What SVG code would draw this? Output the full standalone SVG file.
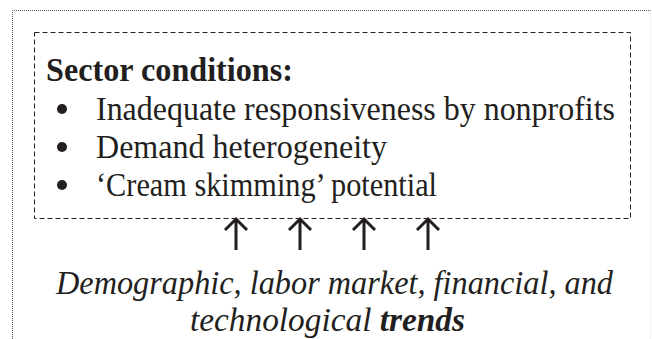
<svg xmlns="http://www.w3.org/2000/svg" width="652" height="339" viewBox="0 0 652 339">
<style>
.t{font-family:"Liberation Serif","Times New Roman",serif;fill:#231f20}
.b{font-size:33px}
.h{font-size:33px;font-weight:bold}
.i{font-size:33px;font-style:italic}
.arr{stroke:#231f20;stroke-width:3;fill:none}
</style>
<rect width="652" height="339" fill="#fff"/>
<g id="frame">
<path d="M12.5 339 V10.5 H651" fill="none" stroke="#555" stroke-width="1" stroke-dasharray="1 1"/>
<path d="M650.5 10.5 V339" fill="none" stroke="#ddd" stroke-width="1" stroke-dasharray="1 2"/>
</g>
<g id="sector">
<rect x="34.5" y="32.5" width="596" height="186" fill="none" stroke="#231f20" stroke-width="1" stroke-dasharray="5 3"/>
<text class="t h" x="46" y="81" textLength="247" lengthAdjust="spacingAndGlyphs">Sector conditions:</text>
<circle class="t" cx="62" cy="109" r="5"/>
<circle class="t" cx="62" cy="147" r="5"/>
<circle class="t" cx="62" cy="185" r="5"/>
<text class="t b" x="96" y="120" textLength="519" lengthAdjust="spacingAndGlyphs">Inadequate responsiveness by nonprofits</text>
<text class="t b" x="96" y="158" textLength="291" lengthAdjust="spacingAndGlyphs">Demand heterogeneity</text>
<text class="t b" x="96" y="196" textLength="341" lengthAdjust="spacingAndGlyphs">‘Cream skimming’ potential</text>
</g>
<g id="connectors">
<path class="arr" d="M236 250 V219 M225 230 L236 219 L247 230"/>
<path class="arr" d="M300 250 V219 M289 230 L300 219 L311 230"/>
<path class="arr" d="M364 250 V219 M353 230 L364 219 L375 230"/>
<path class="arr" d="M428 250 V219 M417 230 L428 219 L439 230"/>
</g>
<g id="trends">
<text class="t i" x="56" y="294" textLength="557" lengthAdjust="spacingAndGlyphs">Demographic, labor market, financial, and</text>
<text class="t i" x="190" y="331" textLength="275" lengthAdjust="spacingAndGlyphs">technological <tspan font-weight="bold">trends</tspan></text>
</g>
</svg>
